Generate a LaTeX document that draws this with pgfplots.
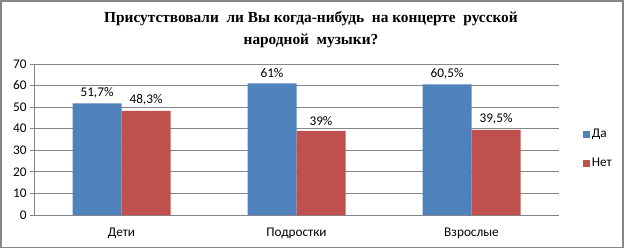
\documentclass[border=0pt]{standalone}
\usepackage{fontspec}
\setmainfont{Carlito}
\newfontfamily\titlefont{Liberation Serif}
\usepackage{pgfplots}
\pgfplotsset{compat=1.18}
\definecolor{blu}{HTML}{4F81BD}
\definecolor{rd}{HTML}{C0504D}
\definecolor{gr}{HTML}{868686}
\begin{document}
\begin{tikzpicture}[x=1bp,y=1bp]
\path[use as bounding box] (0,0) rectangle (625,249);
\draw[gr, line width=1.5bp] (1,1.3) rectangle (623,248);
\node[font=\titlefont\bfseries\fontsize{15.4}{22}\selectfont, align=center] at (311,219) {Присутствовали\ \ ли Вы когда-нибудь\ \ на концерте\ \ русской\\народной\ \ музыки?};
\begin{axis}[
  at={(34bp,34bp)}, anchor=south west,
  scale only axis, width=525bp, height=151bp,
  ybar=0pt, bar width=0.28,
  xmin=-0.5, xmax=2.5, ymin=0, ymax=70,
  ytick={0,10,...,70},
  xtick={0,1,2},
  xticklabels={Дети,Подростки,Взрослые},
  extra x ticks={-0.5,0.5,1.5,2.5},
  extra x tick labels={},
  extra x tick style={major tick length=4bp, tick style={gr, line width=0.8bp}},
  x tick style={draw=none},
  y tick style={gr, line width=0.8bp},
  major tick length=4bp,
  tick align=outside,
  axis x line*=bottom, axis y line*=left,
  axis line style={gr, line width=0.8bp, -},
  ymajorgrids, grid style={gr, line width=0.8bp},
  /pgf/number format/assume math mode=true,
  tick label style={font=\fontsize{13.3}{15}\selectfont, black},
  xticklabel style={yshift=-5bp},
  nodes near coords, point meta=explicit symbolic,
  every node near coord/.append style={font=\fontsize{13.3}{15}\selectfont, black, yshift=2bp},
  legend style={at={(1.045,0.44)}, anchor=west, draw=none, fill=none, font=\fontsize{13.3}{15}\selectfont, row sep=15bp, inner sep=0pt},
  legend cell align=left,
  legend image code/.code={\fill[#1] (0bp,-3.5bp) rectangle (7bp,3.5bp);},
]
\addplot[fill=blu, draw=none] coordinates {(0,51.7) [51,7\%] (1,61) [61\%] (2,60.5) [60,5\%]};
\addplot[fill=rd, draw=none] coordinates {(0,48.3) [48,3\%] (1,39) [39\%] (2,39.5) [39,5\%]};
\legend{Да,Нет}
\end{axis}
\end{tikzpicture}
\end{document}
